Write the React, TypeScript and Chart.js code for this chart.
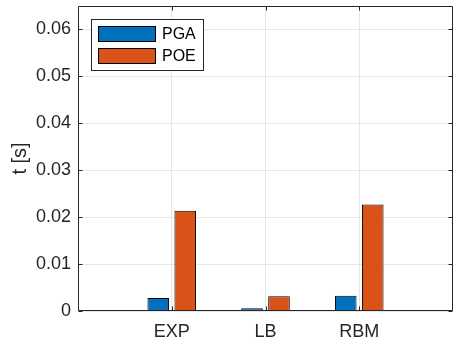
import React, { useEffect, useRef } from 'react';
import { Chart, registerables } from 'chart.js';

Chart.register(...registerables);

const categories = ['EXP', 'LB', 'RBM'];
const seriesNames = ['PGA', 'POE'];
const pgaValues = [0.00277, 0.00057, 0.00326];
const poeValues = [0.02134, 0.00312, 0.0227];
const yTickValues = [0, 0.01, 0.02, 0.03, 0.04, 0.05, 0.06];
const yLabel = 't [s]';
const colors = ['#0072BD', '#D95319'];

const AXIS = '#262626';
const FONT = '"Liberation Sans", Arial, Helvetica, sans-serif';

const matlabPlugin = {
  id: 'matlabAxes',
  afterDraw(chart: any) {
    const { ctx, chartArea } = chart;
    const { left, right, top, bottom } = chartArea;
    const xs = chart.scales.x;
    const ys = chart.scales.y;
    ctx.save();
    ctx.strokeStyle = AXIS;
    ctx.lineWidth = 1;
    const L = Math.round(left) + 0.5;
    const R = Math.round(right) - 0.5;
    const T = Math.round(top) + 0.5;
    const B = Math.round(bottom) - 0.5;
    ctx.beginPath();
    ctx.rect(L, T, R - L, B - T);
    ctx.stroke();
    const tl = 4;
    ctx.beginPath();
    yTickValues.forEach((v) => {
      const y = Math.round(ys.getPixelForValue(v)) + 0.5;
      ctx.moveTo(L, y);
      ctx.lineTo(L + tl, y);
      ctx.moveTo(R, y);
      ctx.lineTo(R - tl, y);
    });
    categories.forEach((_, i) => {
      const x = Math.round(xs.getPixelForValue(i + 1)) + 0.5;
      ctx.moveTo(x, B);
      ctx.lineTo(x, B - tl);
      ctx.moveTo(x, T);
      ctx.lineTo(x, T + tl);
    });
    ctx.stroke();

    // y axis title
    ctx.fillStyle = AXIS;
    ctx.font = `20px ${FONT}`;
    ctx.textAlign = 'center';
    ctx.textBaseline = 'middle';
    ctx.save();
    ctx.translate(20, (top + bottom) / 2);
    ctx.rotate(-Math.PI / 2);
    ctx.fillText(yLabel, 0, 0);
    ctx.restore();

    // legend
    const lx = 91.5, ly = 19.5, lw = 112, lh = 51;
    ctx.fillStyle = '#ffffff';
    ctx.fillRect(lx, ly, lw, lh);
    ctx.strokeStyle = AXIS;
    ctx.strokeRect(lx, ly, lw, lh);
    seriesNames.forEach((name, i) => {
      const sy = 26 + i * 22;
      ctx.fillStyle = colors[i];
      ctx.fillRect(98, sy, 58, 16);
      ctx.strokeStyle = '#000000';
      ctx.strokeRect(98.5, sy + 0.5, 57, 15);
      ctx.fillStyle = '#000000';
      ctx.font = `16px ${FONT}`;
      ctx.textAlign = 'left';
      ctx.textBaseline = 'middle';
      ctx.fillText(name, 162, sy + 8.5);
    });
    ctx.restore();
  },
};

export default function App() {
  const ref = useRef<HTMLCanvasElement>(null);
  useEffect(() => {
    document.body.style.margin = '0';
    const canvas = ref.current!;
    const makeData = (vals: number[]) => vals.map((v, i) => ({ x: i + 1, y: v }));
    const chart = new Chart(canvas, {
      type: 'bar',
      data: {
        datasets: [
          {
            label: seriesNames[0],
            data: makeData(pgaValues),
            backgroundColor: colors[0],
            borderColor: '#000000',
            borderWidth: 1,
          },
          {
            label: seriesNames[1],
            data: makeData(poeValues),
            backgroundColor: colors[1],
            borderColor: '#000000',
            borderWidth: 1,
          },
        ],
      } as any,
      options: {
        animation: false,
        responsive: false,
        devicePixelRatio: 1,
        categoryPercentage: 0.576,
        barPercentage: 0.8,
        layout: { padding: { top: 6, right: 1, left: 0, bottom: 0 } },
        plugins: { legend: { display: false }, tooltip: { enabled: false } },
        scales: {
          x: {
            type: 'linear',
            min: 0,
            max: 4,
            offset: false,
            afterBuildTicks: (s: any) => {
              s.ticks = categories.map((_, i) => ({ value: i + 1 }));
            },
            afterFit: (s: any) => {
              s.height = 32;
              s.paddingLeft = 0;
              s.paddingRight = 0;
            },
            ticks: {
              autoSkip: false,
              maxRotation: 0,
              color: AXIS,
              font: { size: 18, family: FONT },
              padding: 10,
              callback: (v: any) => categories[Math.round(v) - 1] ?? '',
            },
            grid: { color: '#e6e6e6', drawTicks: false, offset: false },
            border: { display: false },
          },
          y: {
            type: 'linear',
            min: 0,
            max: 0.065,
            afterBuildTicks: (s: any) => {
              s.ticks = yTickValues.map((v) => ({ value: v }));
            },
            afterFit: (s: any) => {
              s.width = 78;
              s.paddingTop = 0;
              s.paddingBottom = 0;
            },
            ticks: {
              color: AXIS,
              font: { size: 18, family: FONT },
              padding: 7,
              callback: (v: any) => (v === 0 ? '0' : Number(v).toFixed(2)),
            },
            grid: { color: '#e6e6e6', drawTicks: false },
            border: { display: false },
          },
        },
      } as any,
      plugins: [matlabPlugin],
    });
    return () => chart.destroy();
  }, []);
  return (
    <div style={{ position: 'absolute', left: 0, top: 0, width: 454, height: 343 }}>
      <canvas ref={ref} width={454} height={343} />
    </div>
  );
}
